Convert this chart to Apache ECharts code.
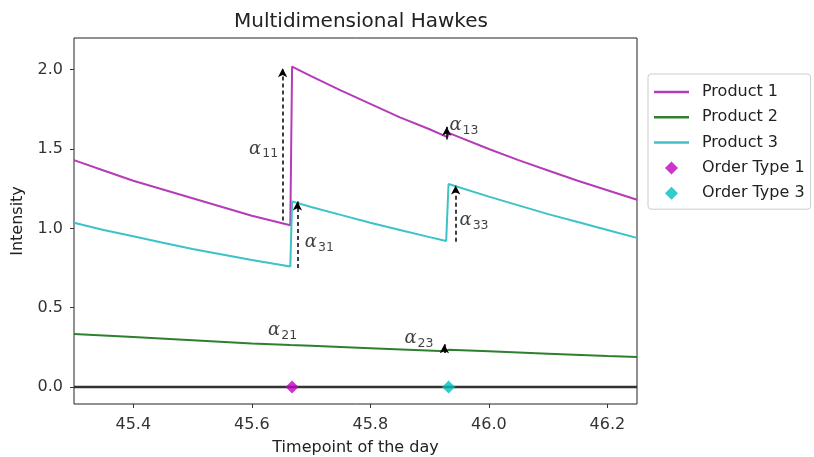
<!DOCTYPE html>
<html>
<head>
<meta charset="utf-8">
<script src="https://cdn.jsdelivr.net/npm/echarts@6/dist/echarts.min.js"></script>
<style>
  html, body { margin: 0; padding: 0; background: #fff; }
  #chart { width: 814px; height: 457px; }
</style>
</head>
<body>
<div id="chart"></div>
<script>
// intensity curves, [time, intensity]
var product1 = [
  [45.30, 1.43], [45.35, 1.365], [45.40, 1.30], [45.45, 1.245], [45.50, 1.19],
  [45.55, 1.135], [45.60, 1.08], [45.665, 1.02],
  [45.668, 2.02], [45.70, 1.96], [45.75, 1.87], [45.80, 1.785], [45.85, 1.70],
  [45.90, 1.625], [45.93, 1.575],
  [45.933, 1.60], [46.00, 1.50], [46.05, 1.43], [46.10, 1.365], [46.15, 1.30],
  [46.20, 1.24], [46.25, 1.18]
];
var product2 = [
  [45.30, 0.335], [45.40, 0.315], [45.50, 0.295], [45.60, 0.275], [45.665, 0.265],
  [45.70, 0.26], [45.80, 0.245], [45.928, 0.225],
  [45.932, 0.235], [46.00, 0.225], [46.10, 0.21], [46.20, 0.195], [46.25, 0.19]
];
var product3 = [
  [45.30, 1.035], [45.35, 0.99], [45.40, 0.95], [45.45, 0.91], [45.50, 0.87],
  [45.55, 0.835], [45.60, 0.80], [45.665, 0.76],
  [45.668, 1.17], [45.70, 1.135], [45.75, 1.085], [45.80, 1.035], [45.85, 0.99],
  [45.90, 0.945], [45.928, 0.92],
  [45.932, 1.28], [46.00, 1.20], [46.05, 1.145], [46.10, 1.09], [46.15, 1.04],
  [46.20, 0.99], [46.25, 0.94]
];
var orderType1 = [[45.668, 0]];
var orderType3 = [[45.932, 0]];
var baseline = [[45.3, 0], [46.25, 0]];

// excitation arrows: x, from, to, dashed
var arrowX = [45.652, 45.677, 45.944, 45.929, 45.925];
var arrowFrom = [1.05, 0.75, 0.915, 1.56, 0.215];
var arrowTo = [2.01, 1.17, 1.27, 1.64, 0.27];
var arrowDashed = [true, true, true, false, false];

// alpha labels: subscript, x, y
var alphaSub = ['11', '31', '13', '33', '21', '23'];
var alphaX = [45.62, 45.714, 45.958, 45.975, 45.652, 45.882];
var alphaY = [1.50, 0.91, 1.65, 1.05, 0.355, 0.305];

var xTicks = [45.4, 45.6, 45.8, 46.0, 46.2];
var yTicks = [0, 0.5, 1.0, 1.5, 2.0];

var arrowLines = [];
for (var i = 0; i < arrowX.length; i++) {
  arrowLines.push([
    { coord: [arrowX[i], arrowFrom[i]], lineStyle: { type: arrowDashed[i] ? [4, 3] : 'solid' } },
    { coord: [arrowX[i], arrowTo[i]] }
  ]);
}
var alphaData = [];
for (var j = 0; j < alphaSub.length; j++) {
  alphaData.push({ value: [alphaX[j], alphaY[j]], sub: alphaSub[j] });
}

var font = 'DejaVu Sans';
var lineIcon = 'path://M0,0L35,0L35,2.5L0,2.5Z';
var diamondIcon = 'path://M0,0M7,0.5L13.5,7L7,13.5L0.5,7ZM14,14';

var chart = echarts.init(document.getElementById('chart'));
chart.setOption({
  animation: false,
  title: {
    text: 'Multidimensional Hawkes',
    left: 229,
    top: 7,
    textStyle: { fontFamily: font, fontSize: 20, fontWeight: 'normal', color: '#222' }
  },
  legend: {
    orient: 'vertical',
    left: 648,
    top: 74,
    itemWidth: 35,
    itemHeight: 14,
    itemGap: 9.3,
    padding: [10, 6, 8, 6],
    borderColor: '#ccc',
    borderWidth: 1,
    borderRadius: 3,
    backgroundColor: '#fff',
    textStyle: { fontFamily: font, fontSize: 16, color: '#222', padding: [0, 0, 0, 8] },
    data: [
      { name: 'Product 1', icon: lineIcon },
      { name: 'Product 2', icon: lineIcon },
      { name: 'Product 3', icon: lineIcon },
      { name: 'Order Type 1', icon: diamondIcon },
      { name: 'Order Type 3', icon: diamondIcon }
    ]
  },
  grid: {
    left: 74, right: 177, top: 38, bottom: 53,
    outerBoundsMode: 'none',
    show: true, borderColor: '#222', borderWidth: 1
  },
  xAxis: {
    type: 'value',
    min: 45.3,
    max: 46.25,
    name: 'Timepoint of the day',
    nameLocation: 'middle',
    nameGap: 36,
    nameTextStyle: { fontFamily: font, fontSize: 16, color: '#222' },
    axisLine: { show: false, onZero: false },
    axisTick: { show: true, length: 4, customValues: xTicks, lineStyle: { color: '#333' } },
    axisLabel: {
      customValues: xTicks,
      fontFamily: font, fontSize: 16, color: '#333', margin: 13,
      formatter: function (v) { return v.toFixed(1); }
    },
    splitLine: { show: false }
  },
  yAxis: {
    type: 'value',
    min: -0.107,
    max: 2.2,
    name: 'Intensity',
    nameLocation: 'middle',
    nameGap: 48,
    nameTextStyle: { fontFamily: font, fontSize: 16, color: '#222' },
    axisLine: { show: false, onZero: false },
    axisTick: { show: true, length: 4, customValues: yTicks, lineStyle: { color: '#333' } },
    axisLabel: {
      customValues: yTicks,
      fontFamily: font, fontSize: 16, color: '#333', margin: 11,
      formatter: function (v) { return v.toFixed(1); }
    },
    splitLine: { show: false }
  },
  series: [
    {
      name: 'zero', type: 'line', data: baseline, symbol: 'none', silent: true, z: 1,
      lineStyle: { color: '#333', width: 2.5 }
    },
    {
      name: 'Product 1', type: 'line', data: product1, symbol: 'none', z: 2,
      itemStyle: { color: '#b43cb8' }, lineStyle: { color: '#b43cb8', width: 2 }
    },
    {
      name: 'Product 2', type: 'line', data: product2, symbol: 'none', z: 2,
      itemStyle: { color: '#2f7f2f' }, lineStyle: { color: '#2f7f2f', width: 2 }
    },
    {
      name: 'Product 3', type: 'line', data: product3, symbol: 'none', z: 3,
      itemStyle: { color: '#3cc2c8' }, lineStyle: { color: '#3cc2c8', width: 2 },
      markLine: {
        silent: true,
        symbol: ['none', 'arrow'],
        symbolSize: [7, 9],
        label: { show: false },
        lineStyle: { color: '#000', width: 1.5 },
        emphasis: { disabled: true },
        data: arrowLines
      }
    },
    {
      name: 'Order Type 1', type: 'scatter', data: orderType1, symbol: 'diamond', symbolSize: 13, z: 4,
      itemStyle: { color: '#c000c0' }
    },
    {
      name: 'Order Type 3', type: 'scatter', data: orderType3, symbol: 'diamond', symbolSize: 13, z: 4,
      itemStyle: { color: '#00bfbf' }
    },
    {
      name: 'alpha', type: 'scatter', data: alphaData, symbolSize: 0, silent: true, z: 5,
      label: {
        show: true,
        position: 'inside',
        formatter: function (p) { return '{a|α}{s|' + p.data.sub + '}'; },
        rich: {
          a: { fontFamily: 'DejaVu Serif', fontStyle: 'italic', fontSize: 18, color: '#111' },
          s: { fontFamily: font, fontSize: 12.5, color: '#111', padding: [10, 0, 0, 1] }
        }
      }
    }
  ]
});
</script>
</body>
</html>
